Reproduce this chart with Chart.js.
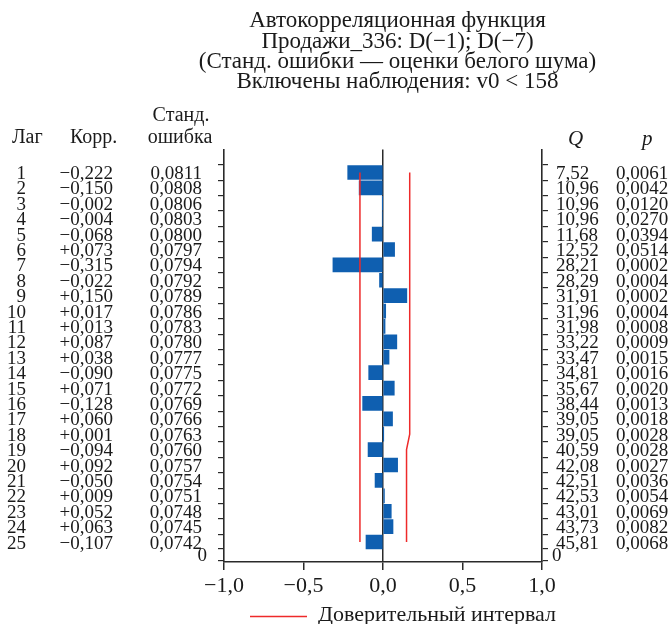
<!DOCTYPE html>
<html>
<head>
<meta charset="utf-8">
<script src="https://cdn.jsdelivr.net/npm/chart.js@4/dist/chart.umd.min.js"></script>
<style>
  html, body { margin: 0; padding: 0; background: #fff; }
  #wrap { width: 669px; height: 624px; position: relative; }
</style>
</head>
<body>
<div id="wrap"><canvas id="acf"></canvas></div>
<script>
    const lags = [1, 2, 3, 4, 5, 6, 7, 8, 9, 10, 11, 12, 13, 14, 15, 16, 17, 18, 19, 20, 21, 22, 23, 24, 25];
    const corr = [-0.222, -0.150, -0.002, -0.004, -0.068, 0.073, -0.315, -0.022, 0.150, 0.017, 0.013, 0.087, 0.038,
        -0.090, 0.071, -0.128, 0.060, 0.001, -0.094, 0.092, -0.050, 0.009, 0.052, 0.063, -0.107];
    const stdErr = [0.0811, 0.0808, 0.0806, 0.0803, 0.0800, 0.0797, 0.0794, 0.0792, 0.0789, 0.0786, 0.0783, 0.0780, 0.0777,
        0.0775, 0.0772, 0.0769, 0.0766, 0.0763, 0.0760, 0.0757, 0.0754, 0.0751, 0.0748, 0.0745, 0.0742];
    const qStat = [7.52, 10.96, 10.96, 10.96, 11.68, 12.52, 28.21, 28.29, 31.91, 31.96, 31.98, 33.22, 33.47,
        34.81, 35.67, 38.44, 39.05, 39.05, 40.59, 42.08, 42.51, 42.53, 43.01, 43.73, 45.81];
    const pVal = [0.0061, 0.0042, 0.0120, 0.0270, 0.0394, 0.0514, 0.0002, 0.0004, 0.0002, 0.0004, 0.0008, 0.0009, 0.0015,
        0.0016, 0.0020, 0.0013, 0.0018, 0.0028, 0.0028, 0.0027, 0.0036, 0.0054, 0.0069, 0.0082, 0.0068];
    // confidence interval as drawn in the picture
    const ciLower = [-0.145, -0.145, -0.145, -0.145, -0.145, -0.145, -0.145, -0.145, -0.145, -0.145, -0.145, -0.145, -0.145,
        -0.145, -0.145, -0.145, -0.145, -0.145, -0.145, -0.145, -0.145, -0.145, -0.145, -0.145, -0.145];
    const ciUpper = [0.168, 0.168, 0.168, 0.168, 0.168, 0.168, 0.168, 0.168, 0.168, 0.168, 0.168, 0.168, 0.168,
        0.168, 0.168, 0.168, 0.168, 0.168, 0.148, 0.148, 0.148, 0.148, 0.148, 0.148, 0.148];
    const xTicks = [-1, -0.5, 0, 0.5, 1];
    const titleLines = [
        'Автокорреляционная функция',
        'Продажи_336: D(−1); D(−7)',
        '(Станд. ошибки — оценки белого шума)',
        'Включены наблюдения: v0 < 158'
    ];
    const legendLabel = 'Доверительный интервал';

    const SERIF = '"Liberation Serif", "Times New Roman", serif';
    const INK = '#1a1a1a';
    const AXIS = '#2a2a2a';
    const BAR = '#0f5fb0';
    const RED = '#ee2a2a';
    const yBottom = 25.8;

    const comma = (v, d) => v.toFixed(d).replace('.', ',');
    const signed = v => (v < 0 ? '−' : '+') + comma(Math.abs(v), 3);
    const axisNum = v => (v < 0 ? '−' : '') + comma(Math.abs(v), 1);

    const lagTicks = scale => {
        scale.ticks = [0].concat(lags, [yBottom]).map(v => ({ value: v }));
    };

    // table columns, headers, legend
    const tablePlugin = {
        id: 'acfTable',
        afterDraw(chart) {
            const ctx = chart.ctx;
            const ys = chart.scales.y;
            ctx.save();
            ctx.fillStyle = INK;
            ctx.textBaseline = 'alphabetic';
            ctx.font = '19px ' + SERIF;
            lags.forEach((lag, i) => {
                const py = ys.getPixelForValue(lag) + 6.5;
                ctx.textAlign = 'right';
                ctx.fillText(String(lag), 26, py);
                ctx.fillText(signed(corr[i]), 113, py);
                ctx.fillText(comma(stdErr[i], 4), 202, py);
                ctx.textAlign = 'left';
                ctx.fillText(comma(qStat[i], 2), 556, py);
                ctx.fillText(comma(pVal[i], 4), 616, py);
            });
            const pb = ys.getPixelForValue(yBottom) + 6.5;
            ctx.textAlign = 'right';
            ctx.fillText('0', 207, pb);
            ctx.textAlign = 'left';
            ctx.fillText('0', 552, pb);

            // headers
            ctx.font = '20px ' + SERIF;
            ctx.textAlign = 'left';
            ctx.fillText('Лаг', 12, 143);
            ctx.fillText('Корр.', 70, 143);
            ctx.textAlign = 'center';
            ctx.fillText('Станд.', 181, 121);
            ctx.fillText('ошибка', 180, 143);
            ctx.font = 'italic 21px ' + SERIF;
            ctx.textAlign = 'left';
            ctx.fillText('Q', 568, 145);
            ctx.fillText('p', 642, 145);

            // legend
            ctx.strokeStyle = RED;
            ctx.lineWidth = 1.5;
            ctx.beginPath();
            ctx.moveTo(250, 616.5);
            ctx.lineTo(307, 616.5);
            ctx.stroke();
            ctx.font = '22px ' + SERIF;
            ctx.fillText(legendLabel, 318, 621);
            ctx.restore();
        }
    };

    const lagScale = (position) => ({
        type: 'linear',
        position,
        reverse: true,
        min: 0,
        max: yBottom,
        afterBuildTicks: lagTicks,
        afterFit: s => { s.width = position === 'left' ? 98 : 127; },
        ticks: { display: false },
        grid: { drawOnChartArea: false, drawTicks: true, tickLength: 6, tickColor: AXIS, lineWidth: 1.2 },
        border: { display: true, color: AXIS, width: 1.6 }
    });

    new Chart(document.getElementById('acf').getContext('2d'), {
        type: 'bar',
        data: {
            datasets: [
                {
                    label: 'Корр.',
                    data: lags.map((l, i) => ({ x: corr[i], y: l })),
                    backgroundColor: BAR,
                    borderWidth: 0,
                    barThickness: 14,
                    xAxisID: 'x',
                    yAxisID: 'y',
                    order: 2
                },
                {
                    type: 'line',
                    label: legendLabel,
                    data: lags.map((l, i) => ({ x: ciLower[i], y: l })),
                    borderColor: RED,
                    borderWidth: 1.5,
                    pointRadius: 0,
                    fill: false,
                    tension: 0,
                    xAxisID: 'x',
                    yAxisID: 'y',
                    order: 1
                },
                {
                    type: 'line',
                    label: legendLabel,
                    data: lags.map((l, i) => ({ x: ciUpper[i], y: l })),
                    borderColor: RED,
                    borderWidth: 1.5,
                    pointRadius: 0,
                    fill: false,
                    tension: 0,
                    xAxisID: 'x',
                    yAxisID: 'y',
                    order: 1
                }
            ]
        },
        options: {
            indexAxis: 'y',
            responsive: true,
            maintainAspectRatio: false,
            animation: false,
            layout: { padding: { left: 126, right: 0, top: 0, bottom: 0 } },
            scales: {
                x: {
                    type: 'linear',
                    min: -1,
                    max: 1,
                    afterBuildTicks: s => { s.ticks = xTicks.map(v => ({ value: v })); },
                    afterFit: s => { s.height = 62; },
                    ticks: {
                        color: INK,
                        padding: 3,
                        font: { family: SERIF, size: 22 },
                        callback: v => axisNum(v)
                    },
                    grid: {
                        drawOnChartArea: true,
                        color: c => (c.tick && c.tick.value === 0 ? AXIS : 'rgba(0,0,0,0)'),
                        lineWidth: 1.5,
                        drawTicks: true,
                        tickLength: 8,
                        tickColor: AXIS
                    },
                    border: { display: true, color: AXIS, width: 1.6 }
                },
                y: lagScale('left'),
                y2: lagScale('right')
            },
            plugins: {
                legend: { display: false },
                tooltip: { enabled: false },
                title: {
                    display: true,
                    text: titleLines,
                    color: INK,
                    font: { family: SERIF, size: 23, weight: 'normal', lineHeight: 0.885 },
                    padding: { top: 11, bottom: 57 }
                }
            }
        },
        plugins: [tablePlugin]
    });
</script>
</body>
</html>
